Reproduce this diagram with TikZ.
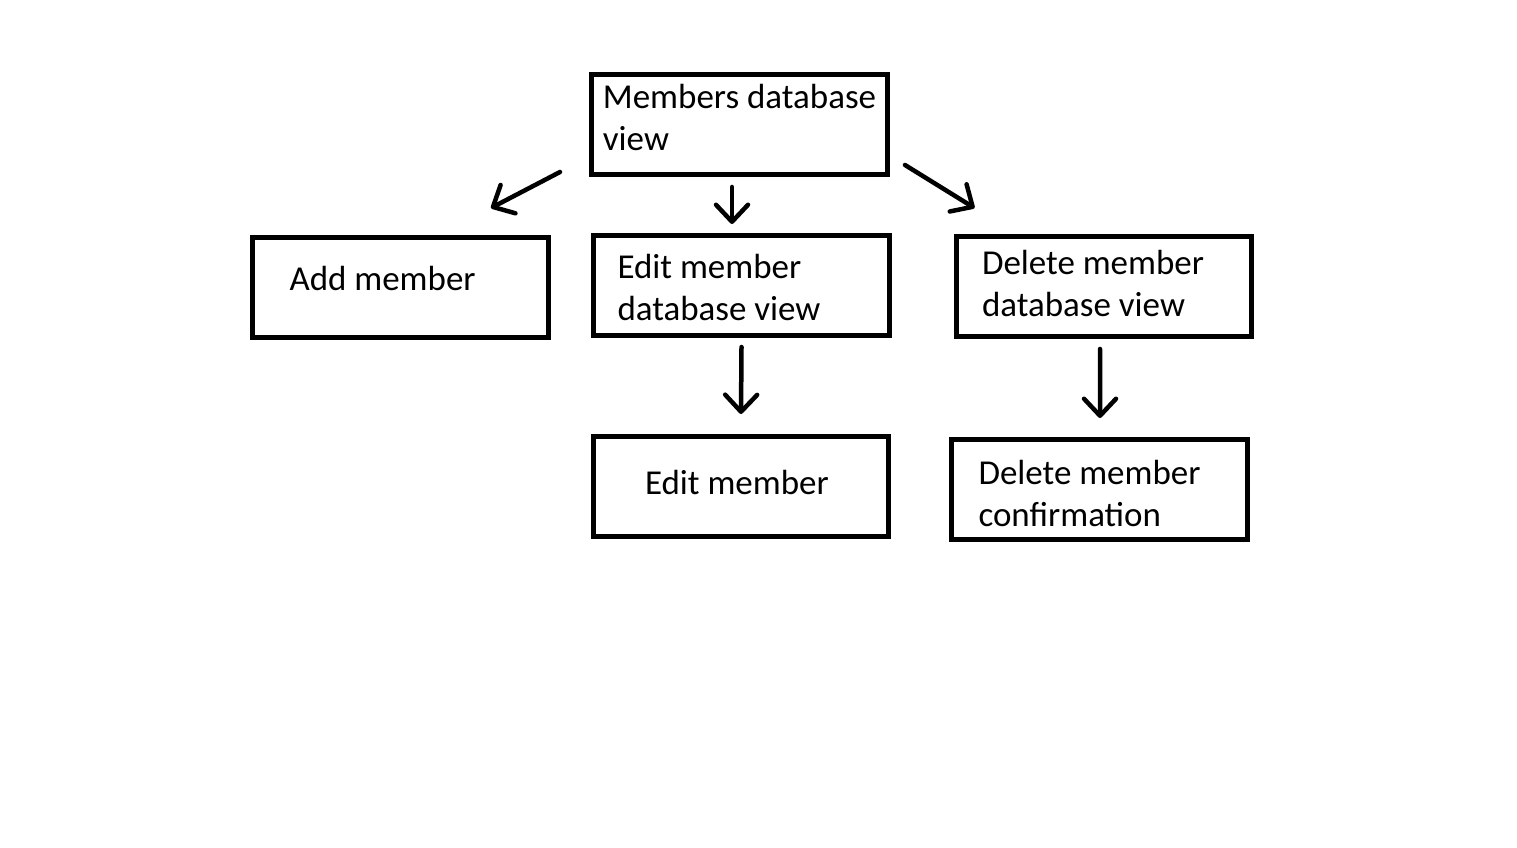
\documentclass[tikz,border=0pt]{standalone}
\usepackage{xcolor}
\usepackage{fontspec}
\setmainfont{Carlito}
\usepackage{tikz}
\usetikzlibrary{arrows.meta}

\tikzset{
  box/.style={draw, line width=0.1cm, minimum width=5.92cm, minimum height=2cm,
    align=flush left, font=\fontsize{19.9pt}{23.9pt}\selectfont},
  arr/.style={line width=0.09cm, line cap=round,
    -{Straight Barb[length=0.34cm,width=0.64cm,line cap=round,line join=round]}}
}

\begin{document}
\begin{tikzpicture}[x=0.02cm,y=-0.02cm]
                \useasboundingbox (0,0) rectangle (1517,848);
                \node[box,text depth=0.28cm] (members) at (739.5,124.5) {Members database\\view};
                \node[box,inner xsep=0.74cm,text width=4.44cm,text depth=0.36cm] (add) at (400.5,287.5) {Add member};
                \node[box,inner xsep=0.48cm,text width=4.96cm,text depth=0.76cm] (editview) at (741.5,285.5) {Edit member\\database view};
                \node[box,inner xsep=0.52cm,text width=4.88cm,text depth=0.96cm] (delview) at (1104,286.5) {Delete member\\database view};
                \node[box,inner xsep=1.04cm,text width=3.84cm,text depth=0.16cm] (edit) at (741,486.5) {Edit member};
                \node[box,inner xsep=0.54cm,text width=4.84cm,text depth=0.68cm] (delconf) at (1099.5,489.5) {Delete member\\confirmation};
                % arrows float between the boxes
                \draw[arr] ([shift={(-29,-5)}]members.south west) -- ([shift={(-60,-27)}]add.north east);
                \draw[arr] ([shift={(-7.5,10)}]members.south) -- ([shift={(-9.5,-9)}]editview.north);
                \draw[arr] ([shift={(15,-12)}]members.south east) -- ([shift={(21,-26)}]delview.north west);
                \draw[arr] ([shift={(0,9)}]editview.south) -- ([shift={(0,-20)}]edit.north);
                \draw[arr] ([shift={(-4,10)}]delview.south) -- ([shift={(0.5,-19)}]delconf.north);
            \end{tikzpicture}
\end{document}
